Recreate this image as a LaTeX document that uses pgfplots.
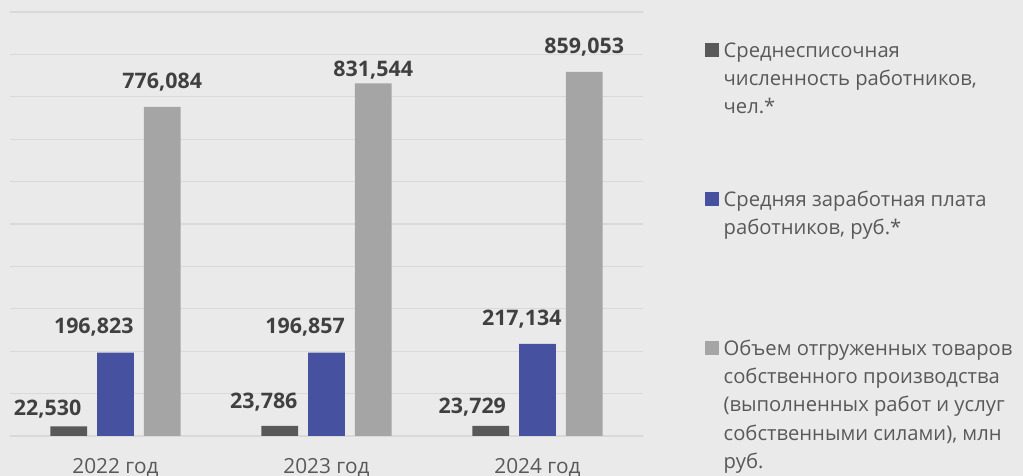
\documentclass[border=0pt]{standalone}
\usepackage{fontspec}
\setmainfont{Open Sans}
\usepackage{pgfplots}
\usepackage{pgfplotstable}
\pgfplotsset{compat=1.18}
\definecolor{bg}{RGB}{234,234,234}
\definecolor{gridc}{RGB}{217,217,217}
\definecolor{cdark}{RGB}{89,89,89}
\definecolor{cblue}{RGB}{70,82,160}
\definecolor{cgrey}{RGB}{165,165,165}
\definecolor{labc}{RGB}{64,64,64}
\definecolor{txt}{RGB}{89,89,89}

\pgfplotstableread{
x y dx dy lab
0 22530 -21.2 10.7 22,530
1 23786 -16.0 17.7 23,786
2 23729 -18.5 12.7 23,729
}\tabA
\pgfplotstableread{
x y dx dy lab
0 196823 -21.7 18.7 196,823
1 196857 -21.4 18.4 196,857
2 217134 -15.7 18.0 217,134
}\tabB
\pgfplotstableread{
x y dx dy lab
0 776084 0 18.0 776,084
1 831544 0 7.0 831,544
2 859053 0 17.7 859,053
}\tabC

\begin{document}
\begin{tikzpicture}
\fill[bg] (0,0) rectangle (1023pt,476pt);
\begin{axis}[
  at={(10pt,40pt)}, anchor=south west,
  scale only axis, width=633pt, height=424pt,
  xmin=-0.5, xmax=2.5, ymin=0, ymax=1000000,
  enlargelimits=false,
  ybar=10pt, bar width=36.7pt,
  axis line style={draw=none},
  major tick length=0pt,
  ytick={0,100000,...,1000000}, yticklabels={}, scaled y ticks=false,
  ymajorgrids, grid style={gridc, line width=1.3pt},
  xtick={0,1,2}, xticklabels={2022 год,2023 год,2024 год},
  xticklabel style={font=\fontsize{20.8}{25}\selectfont, text=txt, anchor=base, inner sep=0pt, text depth=0pt, yshift=-37.5pt},
  point meta=explicit symbolic,
  nodes near coords,
  visualization depends on={\thisrow{dx} \as \dx},
  visualization depends on={\thisrow{dy} \as \dy},
  every node near coord/.append style={font=\bfseries\fontsize{21.4}{25}\selectfont, text=labc, inner sep=0pt, text depth=0pt, anchor=south, xshift=\dx pt, yshift=\dy pt},
  legend style={at={(1.0979,0.9316)}, anchor=north west, draw=none, fill=none, inner sep=0pt, row sep=0pt, column sep=4.5pt,
    cells={anchor=base west},
    nodes={inner sep=0pt, text depth=, font=\fontsize{20.2}{28.3}\selectfont, text=txt}},
  legend image code/.code={\fill[#1,draw=none] (0pt,0pt) rectangle (14pt,14pt);},
  clip=false,
]
\addplot[fill=cdark, draw=none] table[x=x,y=y,meta=lab]{\tabA};
\addlegendentry{\parbox[t][149pt][t]{300pt}{\rule{0pt}{16pt}Среднесписочная\\численность работников,\\чел.*}}
\addplot[fill=cblue, draw=none] table[x=x,y=y,meta=lab]{\tabB};
\addlegendentry{\parbox[t][149pt][t]{300pt}{\rule{0pt}{16pt}Средняя заработная плата\\работников, руб.*}}
\addplot[fill=cgrey, draw=none] table[x=x,y=y,meta=lab]{\tabC};
\addlegendentry{\parbox[t][149pt][t]{300pt}{\rule{0pt}{16pt}Объем отгруженных товаров\\собственного производства\\(выполненных работ и услуг\\собственными силами), млн\\руб.}}
\end{axis}
\pgfresetboundingbox
\useasboundingbox (0,0) rectangle (1023pt,476pt);
\end{tikzpicture}
\end{document}
